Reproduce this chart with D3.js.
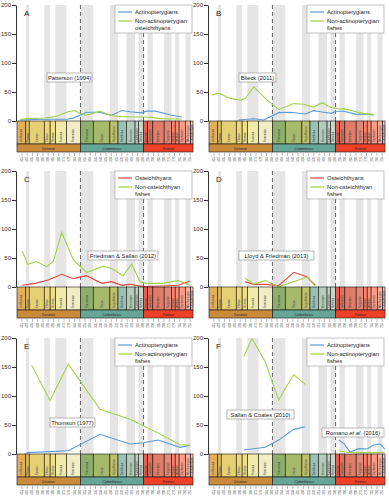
<!DOCTYPE html>
<html>
<head>
<meta charset="utf-8">
<script src="https://cdn.jsdelivr.net/npm/d3@7"></script>
<style>
  body { margin: 0; background: #fff; }
  svg { display: block; font-family: "Liberation Sans", Arial, sans-serif; }
</style>
</head>
<body>
<div id="chart"></div>
<script>
// Geologic time scale (Ma)
const stageNames = ['Lochkovian', 'Pragian', 'Emsian', 'Eifelian', 'Givetian', 'Frasnian', 'Famennian',
    'Tournaisian', 'Visean', 'Serpukhovian', 'Bashkirian', 'Moscovian', 'Kasimovian', 'Gzhelian',
    'Asselian', 'Sakmarian', 'Artinskian', 'Kungurian', 'Roadian', 'Wordian', 'Capitanian', 'Wuchiapingian', 'Changhsingian'];
const stageBounds = [419.2, 410.8, 407.6, 393.3, 387.7, 382.7, 372.2, 358.9, 346.7, 330.9, 323.2, 315.2, 307.0, 303.7,
    298.9, 295.0, 290.1, 279.3, 272.3, 268.8, 265.1, 259.1, 254.1, 251.9];
const stageColors = ['#e3b058', '#e5c468', '#e5d075', '#f1d576', '#f1e185', '#f2eaa8', '#f2edc5',
    '#8cb06c', '#a6b96c', '#bfc26b', '#99c2b5', '#b3cbb9', '#bfd0c5', '#ccd4c7',
    '#e36350', '#e36f5c', '#e37b68', '#e38776', '#fb8069', '#fb8d76', '#fb9a85', '#fcb4a2', '#fcc0b2'];
const periodNames = ['Devonian', 'Carboniferous', 'Permian'];
const periodBounds = [419.2, 358.9, 298.9, 251.9];
const periodColors = ['#c98a3a', '#67a599', '#f04028'];
const ageTicks = [415, 410, 405, 400, 395, 390, 385, 380, 375, 370, 365, 360, 355, 350, 345, 340, 335, 330,
    325, 320, 315, 310, 305, 300, 295, 290, 285, 280, 275, 270, 265, 260, 255];
const yTicks = [0, 50, 100, 150, 200];

// Series: [age (Ma), number of taxa]
const pattersonActino = [[416.3, 1.7], [395, 3], [372, 3], [365.7, 5], [353, 15], [341.9, 15], [329, 10], [319.7, 18],
    [311.8, 16], [300.7, 14], [296, 17], [288, 17], [278.5, 13], [272.1, 10], [262.6, 7]];
const pattersonNonActino = [[416.3, 2.3], [408.5, 4.6], [392.6, 5.2], [383.1, 7.5], [370.4, 16], [364.1, 18], [359.3, 13],
    [353, 10], [340.3, 17], [329.2, 9], [319.7, 7.5], [310.2, 7], [300.7, 7], [291.2, 6.3], [284.9, 4.6], [275.4, 3.4], [262.6, 3.4]];

const blieckActino = [[391, 1.7], [383.1, 2.9], [376.7, 4], [367.2, 1.7], [352.9, 14.4], [341.9, 15], [327.7, 12], [319.7, 17.8],
    [311.8, 15.5], [302.3, 13.2], [299.1, 16.7], [291.2, 16.7], [278.5, 11.5], [272.1, 12], [262.6, 10.3]];
const blieckNonActino = [[416.3, 45], [409.9, 48], [398.9, 39], [389.4, 36], [384.6, 39], [376.6, 59], [364, 36], [352.9, 20],
    [338.6, 30], [329.1, 29], [319.6, 23.6], [311.7, 31.6], [303.8, 23.6], [295.8, 20.7], [291.1, 21.3], [281.6, 16.7],
    [272.1, 13.2], [262.6, 11.5]];

const friedmanOst = [[414.2, 2.9], [402.1, 6.3], [389.4, 12], [376.7, 21.8], [365.7, 14.4], [353, 19.5], [338.7, 6.3],
    [329.2, 9.2], [319.7, 2.9], [311.8, 4.6], [299.1, 0.6], [281.7, 1.7], [265.9, 2.9], [254.8, 10.3]];
const friedmanNonOst = [[414.2, 62], [409, 39], [400.5, 44], [391, 35], [384.7, 44], [376.7, 94], [365.7, 47], [353, 25],
    [337.2, 36], [329.2, 32], [318.2, 19.5], [310.2, 39.7], [302.3, 9.2], [296, 6.3], [281.7, 6.3], [265.9, 10.9], [254.8, 2.9]];

const lloydOst = [[384.7, 9.2], [376.7, 4.6], [365.7, 4.6], [353, 2.3], [338.7, 25.3], [326.1, 17.8], [318.2, 3.4]];
const lloydNonOst = [[384.7, 15], [376.7, 5], [365.7, 11], [353, 0.6], [326.1, 17], [318.2, 1.7]];

const thomsonActino = [[410, 2.3], [370.4, 5.7], [340.3, 34], [311.8, 17.2], [299.1, 19.5], [284.9, 24], [264.3, 11.5], [254.8, 15]];
const thomsonNonActino = [[405.2, 153], [387.8, 92], [370.4, 155], [340.3, 77], [311.8, 60], [284.9, 36], [264.3, 16], [254.8, 15.5]];

const sallanActino = [[386.2, 6.9], [365.7, 11.5], [353, 24], [338.7, 42.5], [327.7, 47]];
const sallanNonActino = [[386.2, 168], [378.3, 199], [365.7, 159], [353, 93], [338.7, 137], [327.7, 120]];
const romanoActino = [[295.9, 24], [291.2, 18.4], [284.9, 3.4], [276.9, 9.2], [269, 8.6], [262.6, 15.5], [256.4, 17.2], [252, 8.6]];
const romanoNonActino = [[295.9, 5.7], [288, 2.9], [276.9, 2.3], [262.6, 2.3], [252, 2.9]];

const BLUE = '#5b9ad6', GREEN = '#a3d14a', RED = '#e8473e';

const panels = [
    { letter: 'A', col: 0, row: 0, legend: [['Actinopterygians'], ['Non-actinopterygian', 'osteichthyans']], colors: [BLUE, GREEN],
      series: [[pattersonActino, BLUE], [pattersonNonActino, GREEN]],
      notes: [{ text: 'Patterson (1994)', x: 47, y: 73, w: 45 }] },
    { letter: 'B', col: 1, row: 0, legend: [['Actinopterygians'], ['Non-actinopterygian', 'fishes']], colors: [BLUE, GREEN],
      series: [[blieckActino, BLUE], [blieckNonActino, GREEN]],
      notes: [{ text: 'Blieck (2011)', x: 47, y: 73, w: 37 }] },
    { letter: 'C', col: 0, row: 1, legend: [['Osteichthyans'], ['Non-osteichthyan', 'fishes']], colors: [RED, GREEN],
      series: [[friedmanOst, RED], [friedmanNonOst, GREEN]],
      notes: [{ text: 'Friedman & Sallan (2012)', x: 88, y: 85, w: 70 }] },
    { letter: 'D', col: 1, row: 1, legend: [['Osteichthyans'], ['Non-osteichthyan', 'fishes']], colors: [RED, GREEN],
      series: [[lloydOst, RED], [lloydNonOst, GREEN]],
      notes: [{ text: 'Lloyd & Friedman (2013)', x: 47, y: 85, w: 75 }] },
    { letter: 'E', col: 0, row: 2, legend: [['Actinopterygians'], ['Non-actinopterygian', 'fishes']], colors: [BLUE, GREEN],
      series: [[thomsonActino, BLUE], [thomsonNonActino, GREEN]],
      notes: [{ text: 'Thomson (1977)', x: 50, y: 85, w: 45 }] },
    { letter: 'F', col: 1, row: 2, legend: [['Actinopterygians'], ['Non-actinopterygian', 'fishes']], colors: [BLUE, GREEN],
      series: [[sallanActino, BLUE], [sallanNonActino, GREEN], [romanoActino, BLUE], [romanoNonActino, GREEN]],
      notes: [{ text: 'Sallan & Coates (2010)', x: 35, y: 77, w: 67 }, { text: 'Romano et al. (2016)', x: 130, y: 95, w: 62, italic: true }] }
];

const W = 389, H = 500;
const svg = d3.select('#chart').append('svg').attr('width', W).attr('height', H);

const colX = [0, 192], rowY = [0, 166, 333];

panels.forEach(p => {
    const ox = colX[p.col], oy = rowY[p.row];
    const g = svg.append('g').attr('transform', `translate(${ox},${oy})`);
    const x = d3.scaleLinear().domain([419.2, 251.9]).range([17, 193]);
    const y = d3.scaleLinear().domain([0, 200]).range([121, 5]);
    const y0 = y(0);

    // grey stripes for alternate stages
    g.append('g').selectAll('rect')
        .data(stageNames.map((n, i) => i).filter(i => i % 2 === 1))
        .enter().append('rect')
        .attr('x', i => x(stageBounds[i]))
        .attr('width', i => x(stageBounds[i + 1]) - x(stageBounds[i]))
        .attr('y', y(200)).attr('height', y0 - y(200))
        .attr('fill', '#e5e5e5');

    // period boundary dashed lines
    g.selectAll('.pb').data([358.9, 298.9]).enter().append('line')
        .attr('x1', d => x(d)).attr('x2', d => x(d))
        .attr('y1', y(200)).attr('y2', y0)
        .attr('stroke', '#555').attr('stroke-width', 0.9).attr('stroke-dasharray', '4,3');

    // legend
    const lg = g.append('g').attr('transform', 'translate(115,5)');
    lg.append('rect').attr('width', 77).attr('height', 28).attr('fill', '#fff')
        .attr('stroke', '#aaa').attr('stroke-width', 0.7);
    p.legend.forEach((lines, i) => {
        const ly = 7 + i * 9;
        lg.append('line').attr('x1', 3).attr('x2', 17).attr('y1', ly).attr('y2', ly)
            .attr('stroke', p.colors[i]).attr('stroke-width', 1.2);
        lines.forEach((t, j) => {
            lg.append('text').attr('x', 20).attr('y', ly + 2 + j * 7)
                .attr('font-size', 5.8).attr('fill', '#222').text(t);
        });
    });

    // series lines
    const line = d3.line().x(d => x(d[0])).y(d => y(d[1]));
    p.series.forEach(([data, color]) => {
        g.append('path').datum(data).attr('d', line)
            .attr('fill', 'none').attr('stroke', color).attr('stroke-width', 1.1);
    });

    // y axis
    const ya = g.append('g').attr('transform', 'translate(16,0)')
        .call(d3.axisLeft(y).tickValues(yTicks).tickSize(4).tickSizeOuter(0).tickPadding(1));
    ya.selectAll('text').attr('font-size', 6).attr('fill', '#333').attr('font-family', null);
    ya.selectAll('line, path').attr('stroke', '#333');

    // stage boxes
    const tl = g.append('g');
    stageNames.forEach((n, i) => {
        const x1 = x(stageBounds[i]), x2 = x(stageBounds[i + 1]);
        tl.append('rect').attr('x', x1).attr('y', y0).attr('width', x2 - x1).attr('height', 23)
            .attr('fill', stageColors[i]).attr('stroke', '#111').attr('stroke-width', 0.6);
        tl.append('text')
            .attr('transform', `translate(${(x1 + x2) / 2 + 1},${y0 + 21}) rotate(-90)`)
            .attr('font-size', 2.6).attr('fill', '#444').text(n);
    });
    periodNames.forEach((n, i) => {
        const x1 = x(periodBounds[i]), x2 = x(periodBounds[i + 1]);
        tl.append('rect').attr('x', x1).attr('y', y0 + 23).attr('width', x2 - x1).attr('height', 8)
            .attr('fill', periodColors[i]).attr('stroke', '#111').attr('stroke-width', 0.6);
        tl.append('text').attr('x', (x1 + x2) / 2).attr('y', y0 + 28.5)
            .attr('text-anchor', 'middle').attr('font-size', 3).attr('fill', '#222').text(n);
    });

    // age axis
    const xa = g.append('g').attr('transform', `translate(0,${y0 + 32})`)
        .call(d3.axisBottom(x).tickValues(ageTicks).tickSize(3).tickSizeOuter(0).tickFormat(d3.format('d')));
    xa.select('.domain').remove();
    xa.selectAll('line').attr('stroke', '#777').attr('stroke-width', 0.5);
    xa.selectAll('text').attr('font-size', 2.8).attr('fill', '#555').attr('font-family', null)
        .attr('transform', 'rotate(-90)').attr('text-anchor', 'end').attr('dy', '0.35em').attr('x', -4).attr('y', 0);

    // source annotation boxes
    p.notes.forEach(n => {
        g.append('rect').attr('x', n.x).attr('y', n.y).attr('width', n.w).attr('height', 9)
            .attr('fill', '#fff').attr('stroke', '#999').attr('stroke-width', 0.7);
        const t = g.append('text').attr('x', n.x + n.w / 2).attr('y', n.y + 6.7)
            .attr('text-anchor', 'middle').attr('font-size', 5.8).attr('fill', '#222');
        if (n.italic) {
            t.append('tspan').text('Romano ');
            t.append('tspan').attr('font-style', 'italic').text('et al.');
            t.append('tspan').text(' (2016)');
        } else {
            t.text(n.text);
        }
    });

    // panel letter
    g.append('text').attr('x', 24).attr('y', 16).attr('font-size', 8).attr('fill', '#222').text(p.letter);
});
</script>
</body>
</html>
